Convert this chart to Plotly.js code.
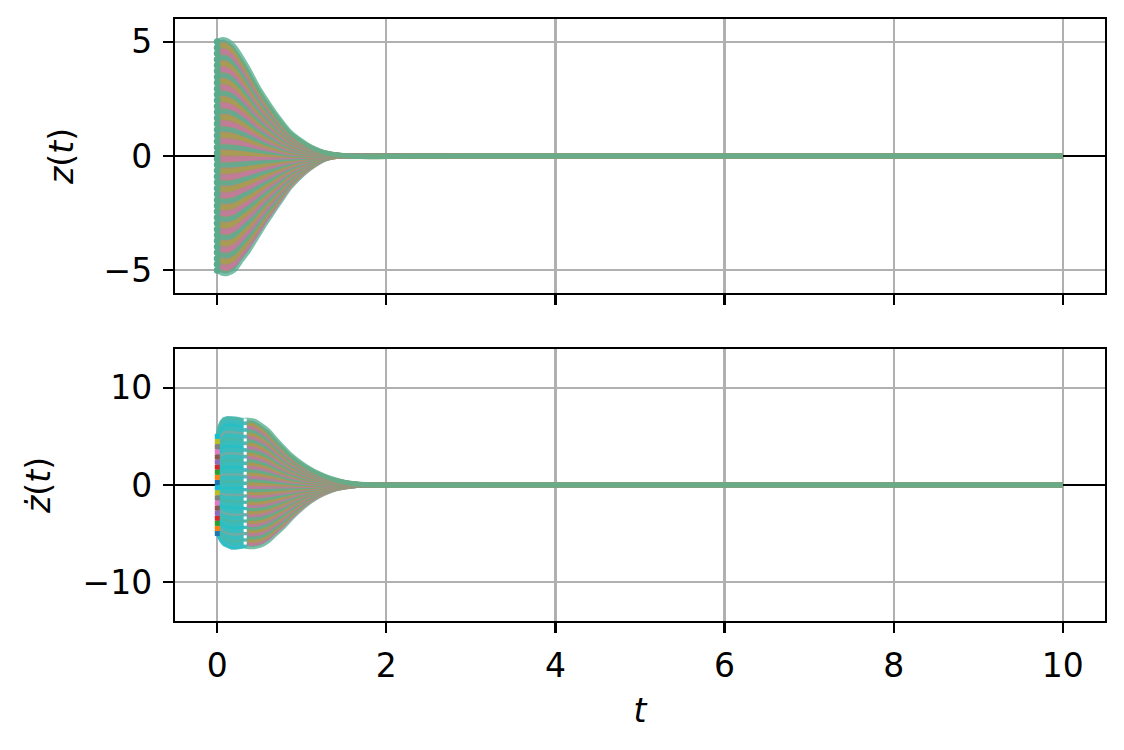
<!DOCTYPE html>
<html>
<head>
<meta charset="utf-8">
<script src="https://cdn.plot.ly/plotly-3.0.1.min.js"></script>
<style>html,body{margin:0;padding:0;background:#fff;}#chart{width:1124px;height:750px;}</style>
</head>
<body>
<div id="chart"></div>
<script>
// ---- values ----
// initial positions of the trajectories (top panel start points)
const z0Levels = [-5, -4.744, -4.487, -4.231, -3.974, -3.718, -3.462, -3.205, -2.949, -2.692,
  -2.436, -2.179, -1.923, -1.667, -1.410, -1.154, -0.897, -0.641, -0.385, -0.128,
  0.128, 0.385, 0.641, 0.897, 1.154, 1.410, 1.667, 1.923, 2.179, 2.436,
  2.692, 2.949, 3.205, 3.462, 3.718, 3.974, 4.231, 4.487, 4.744, 5];
// initial velocities (bottom panel start points at t = 0)
const v0Levels = [-5, -4.474, -3.947, -3.421, -2.895, -2.368, -1.842, -1.316, -0.789, -0.263,
  0.263, 0.789, 1.316, 1.842, 2.368, 2.895, 3.421, 3.947, 4.474, 5];

// z(t): outermost trajectories (start at +5 and -5)
const tZ     = [0, 0.03, 0.07, 0.12, 0.2, 0.27, 0.37, 0.47, 0.57, 0.67, 0.77, 0.86, 0.96, 1.06, 1.16, 1.26, 1.36, 1.46, 1.6, 1.8, 2.2, 3, 10];
const zUpper = [5.0, 5.07, 5.1, 5.05, 4.8, 4.42, 3.8, 3.1, 2.5, 1.95, 1.45, 1.05, 0.75, 0.5, 0.3, 0.16, 0.08, 0.03, -0.01, -0.03, -0.01, 0, 0];
const zLower = [-5.0, -5.08, -5.15, -5.15, -5.0, -4.65, -4.15, -3.55, -2.95, -2.4, -1.85, -1.38, -0.98, -0.65, -0.38, -0.16, -0.05, 0, 0.02, 0.02, 0.01, 0, 0];

// ż(t): early transient band (t from 0 to 0.33), upper and lower edges
const tB1     = [0, 0.02, 0.05, 0.08, 0.12, 0.17, 0.22, 0.28, 0.33];
const b1Upper = [5.0, 5.9, 6.5, 6.8, 6.9, 6.9, 6.85, 6.75, 6.7];
const b1Lower = [-5.0, -5.4, -5.8, -6.1, -6.3, -6.45, -6.45, -6.4, -6.3];

// ż(t): decaying family after t = 0.33, outermost curves
const tV     = [0.33, 0.43, 0.51, 0.6, 0.67, 0.77, 0.86, 0.96, 1.06, 1.16, 1.26, 1.36, 1.46, 1.56, 1.65, 1.8, 2.0, 2.5, 3.2, 10];
const vUpper = [6.7, 6.6, 6.2, 5.6, 4.9, 3.95, 3.15, 2.45, 1.85, 1.35, 0.95, 0.62, 0.38, 0.2, 0.1, 0.02, -0.03, -0.02, 0, 0];
const vLower = [-6.3, -6.35, -6.2, -5.75, -5.2, -4.4, -3.55, -2.7, -1.95, -1.35, -0.88, -0.52, -0.3, -0.15, -0.06, 0.02, 0.05, 0.02, 0, 0];

const xTicks = [0, 2, 4, 6, 8, 10];
const zTicks = [-5, 0, 5];
const vTicks = [-10, 0, 10];

// ---- styling ----
const tab10 = ['#1f77b4','#ff7f0e','#2ca02c','#d62728','#9467bd','#8c564b','#e377c2','#7f7f7f','#bcbd22','#17becf'];
const bandPal = ['rgba(88,176,148,0.8)', 'rgba(200,118,162,0.75)', 'rgba(168,158,72,0.75)'];
const cyanPal = ['rgba(35,192,200,0.85)', 'rgba(75,182,165,0.85)', 'rgba(150,160,150,0.6)'];
const FONT = 'DejaVu Sans, Liberation Sans, sans-serif';

function scaled(level, maxLevel, up, low) {
  const f = level / maxLevel;
  const prof = f >= 0 ? up : low;
  return prof.map(v => v * Math.abs(f));
}
const rev = a => a.slice().reverse();

const traces = [];
// top panel: band under the trajectories
traces.push({x: tZ.concat(rev(tZ)), y: zUpper.concat(rev(zLower)), xaxis: 'x', yaxis: 'y',
  mode: 'lines', fill: 'toself', fillcolor: 'rgb(170,142,120)', line: {width: 0, color: 'rgba(0,0,0,0)'},
  hoverinfo: 'skip', showlegend: false});
// top panel: trajectories z(t)
z0Levels.forEach((z0, k) => {
  traces.push({x: tZ, y: scaled(z0, 5, zUpper, zLower), xaxis: 'x', yaxis: 'y', mode: 'lines',
    line: {color: bandPal[k % 3], width: 5, shape: 'spline', smoothing: 0.8}, hoverinfo: 'skip', showlegend: false});
});
traces.push({x: z0Levels.map(() => tZ[0]), y: z0Levels, xaxis: 'x', yaxis: 'y', mode: 'markers',
  marker: {color: 'rgb(92,170,140)', size: 7, symbol: 'circle'}, hoverinfo: 'skip', showlegend: false});

// bottom panel: band under the decaying family
traces.push({x: tV.concat(rev(tV)), y: vUpper.concat(rev(vLower)), xaxis: 'x2', yaxis: 'y2',
  mode: 'lines', fill: 'toself', fillcolor: 'rgb(160,142,105)', line: {width: 0, color: 'rgba(0,0,0,0)'},
  hoverinfo: 'skip', showlegend: false});
// bottom panel: decaying family
z0Levels.forEach((z0, k) => {
  traces.push({x: tV, y: scaled(z0, 5, vUpper, vLower), xaxis: 'x2', yaxis: 'y2', mode: 'lines',
    line: {color: bandPal[k % 3], width: 5, shape: 'spline', smoothing: 0.8}, hoverinfo: 'skip', showlegend: false});
});
// bottom panel: early band
traces.push({x: tB1.concat(rev(tB1)), y: b1Upper.concat(rev(b1Lower)),
  xaxis: 'x2', yaxis: 'y2', mode: 'lines', fill: 'toself', fillcolor: 'rgb(58,188,188)',
  line: {color: 'rgba(75,185,190,0.9)', width: 4}, hoverinfo: 'skip', showlegend: false});
v0Levels.forEach((v0, j) => {
  traces.push({x: tB1, y: scaled(v0, 5, b1Upper, b1Lower), xaxis: 'x2', yaxis: 'y2', mode: 'lines',
    line: {color: cyanPal[j % 3], width: 2.5, shape: 'spline', smoothing: 0.8}, hoverinfo: 'skip', showlegend: false});
});
// white start dots of the decaying family
const dotLevels = z0Levels.filter((_, k) => k % 2 === 1);
traces.push({x: dotLevels.map(() => tV[0]), y: dotLevels.map(l => scaled(l, 5, vUpper, vLower)[0]),
  xaxis: 'x2', yaxis: 'y2', mode: 'markers', marker: {color: '#ffffff', size: 3, symbol: 'square'},
  hoverinfo: 'skip', showlegend: false});
// coloured start markers at t = 0
traces.push({x: v0Levels.map(() => tB1[0]), y: v0Levels, xaxis: 'x2', yaxis: 'y2', mode: 'markers',
  marker: {color: v0Levels.map((_, j) => tab10[j % 10]), size: 5, symbol: 'square'},
  hoverinfo: 'skip', showlegend: false});

const axisCommon = {
  showline: true, linecolor: '#000', linewidth: 2.2, mirror: true,
  ticks: 'outside', ticklen: 10, tickwidth: 2.2, tickcolor: '#000',
  showgrid: true, gridcolor: '#b0b0b0', gridwidth: 2.2,
  tickfont: {family: FONT, size: 33, color: '#000'}
};

const layout = {
  width: 1124, height: 750,
  margin: {l: 175, r: 19, t: 19, b: 129},
  paper_bgcolor: '#fff', plot_bgcolor: '#fff',
  showlegend: false,
  font: {family: FONT, size: 33, color: '#000'},
  xaxis: Object.assign({}, axisCommon, {domain: [0, 1], range: [-0.5, 10.5], tickvals: xTicks,
    showticklabels: false, zeroline: false, anchor: 'y', matches: 'x2'}),
  yaxis: Object.assign({}, axisCommon, {domain: [0.5449, 1], range: [-6, 6], tickvals: zTicks,
    zeroline: true, zerolinecolor: '#000', zerolinewidth: 2.5, anchor: 'x',
    ticklabelstandoff: 4,
    title: {text: '<i>z</i>(<i>t</i>)', font: {family: FONT, size: 33}, standoff: 20}}),
  xaxis2: Object.assign({}, axisCommon, {domain: [0, 1], range: [-0.5, 10.5], tickvals: xTicks,
    zeroline: false, anchor: 'y2', ticklabelstandoff: 4,
    title: {text: '<i>t</i>', font: {family: FONT, size: 33}, standoff: 15}}),
  yaxis2: Object.assign({}, axisCommon, {domain: [0, 0.4518], range: [-14, 14], tickvals: vTicks,
    zeroline: true, zerolinecolor: '#000', zerolinewidth: 2.5, anchor: 'x2',
    ticklabelstandoff: 4,
    title: {text: '<i>ż</i>(<i>t</i>)', font: {family: FONT, size: 33}, standoff: 22}})
};

Plotly.newPlot('chart', traces, layout, {staticPlot: true, displayModeBar: false});
</script>
</body>
</html>
